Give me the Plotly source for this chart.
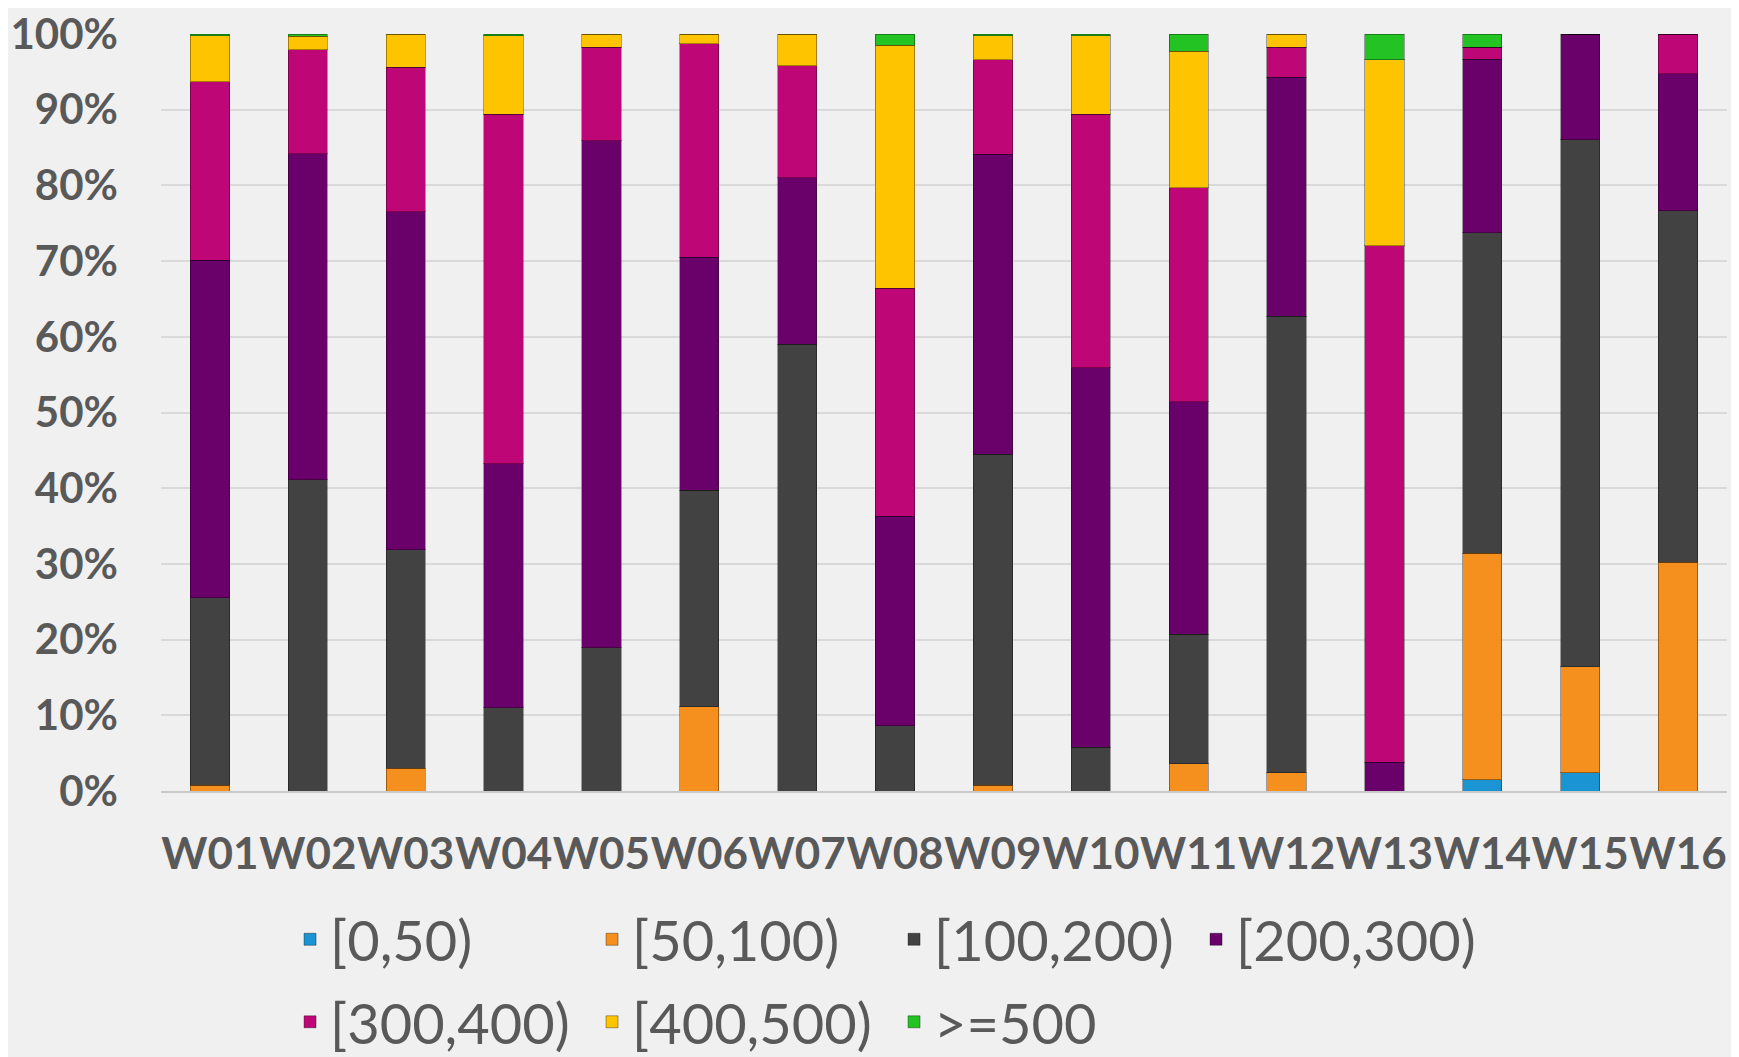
import plotly.graph_objects as go

weeks = ["W01", "W02", "W03", "W04", "W05", "W06", "W07", "W08",
         "W09", "W10", "W11", "W12", "W13", "W14", "W15", "W16"]

bin_0_50 = [0, 0, 0, 0, 0, 0, 0, 0, 0, 0, 0, 0, 0, 1.5, 2.4, 0]
bin_50_100 = [0.75, 0, 3.0, 0, 0, 11.1, 0, 0, 0.75, 0, 3.6, 2.4, 0, 29.9, 14.0, 30.2]
bin_100_200 = [24.8, 41.1, 28.9, 11.0, 18.9, 28.6, 59.0, 8.6, 43.75, 5.8, 17.1, 60.3, 0, 42.3, 69.6, 46.45]
bin_200_300 = [44.6, 43.1, 44.6, 32.2, 67.0, 30.8, 22.0, 27.7, 39.6, 50.1, 30.7, 31.6, 3.8, 22.9, 13.95, 18.1]
bin_300_400 = [23.6, 13.7, 19.1, 46.2, 12.35, 28.2, 14.8, 30.1, 12.5, 33.5, 28.3, 3.95, 68.2, 1.6, 0, 5.25]
bin_400_500 = [6.1, 1.8, 4.4, 10.4, 1.75, 1.3, 4.2, 32.1, 3.2, 10.4, 18.0, 1.75, 24.6, 0, 0, 0]
bin_500_up = [0.2, 0.3, 0, 0.2, 0, 0, 0, 1.5, 0.2, 0.2, 2.3, 0, 3.4, 1.75, 0, 0]

series_names = ["[0,50)", "[50,100)", "[100,200)", "[200,300)",
                "[300,400)", "[400,500)", ">=500"]
series_values = [bin_0_50, bin_50_100, bin_100_200, bin_200_300,
                 bin_300_400, bin_400_500, bin_500_up]
series_colors = ["#1b94d4", "#f5901e", "#424242", "#6a006a",
                 "#be0677", "#ffc400", "#22c322"]
series_legend = ["legend", "legend", "legend", "legend",
                 "legend2", "legend2", "legend2"]

fig = go.Figure()
for name, vals, col, lg in zip(series_names, series_values, series_colors, series_legend):
    fig.add_trace(go.Bar(
        x=weeks, y=vals, name=name, legend=lg,
        marker=dict(color=col, line=dict(color="rgba(0,0,0,0.35)", width=1)),
    ))

font_family = "Lato"
legend_common = dict(
    orientation="h", xanchor="left", yanchor="middle",
    traceorder="normal", entrywidth=257, entrywidthmode="pixels",
    bgcolor="rgba(0,0,0,0)",
    font=dict(family=font_family, size=56, color="#595959"),
)

fig.update_layout(
    width=1747, height=1080,
    barmode="stack", barnorm="percent", bargap=0.6,
    paper_bgcolor="#f0f0f0", plot_bgcolor="#f0f0f0",
    margin=dict(l=153, r=28, t=26, b=297),
    legend=dict(x=0.0824, y=-0.196, **legend_common),
    legend2=dict(x=0.0824, y=-0.305, **legend_common),
    xaxis=dict(
        type="category", showgrid=False, tickangle=0, automargin=False,
        tickfont=dict(family=font_family, size=44, color="#595959", weight="bold"),
        ticks="", ticklabelstandoff=23,
        showline=True, linecolor="#c8c8c8", linewidth=2,
    ),
    yaxis=dict(
        range=[0, 100], dtick=10, ticksuffix="%", automargin=False,
        ticklabeloverflow="allow",
        tickfont=dict(family=font_family, size=42, color="#595959", weight="bold"),
        showgrid=True, gridcolor="#d9d9d9", gridwidth=2,
        zeroline=False, ticks="", ticklabelstandoff=42,
    ),
)

fig.write_html("out.html")
